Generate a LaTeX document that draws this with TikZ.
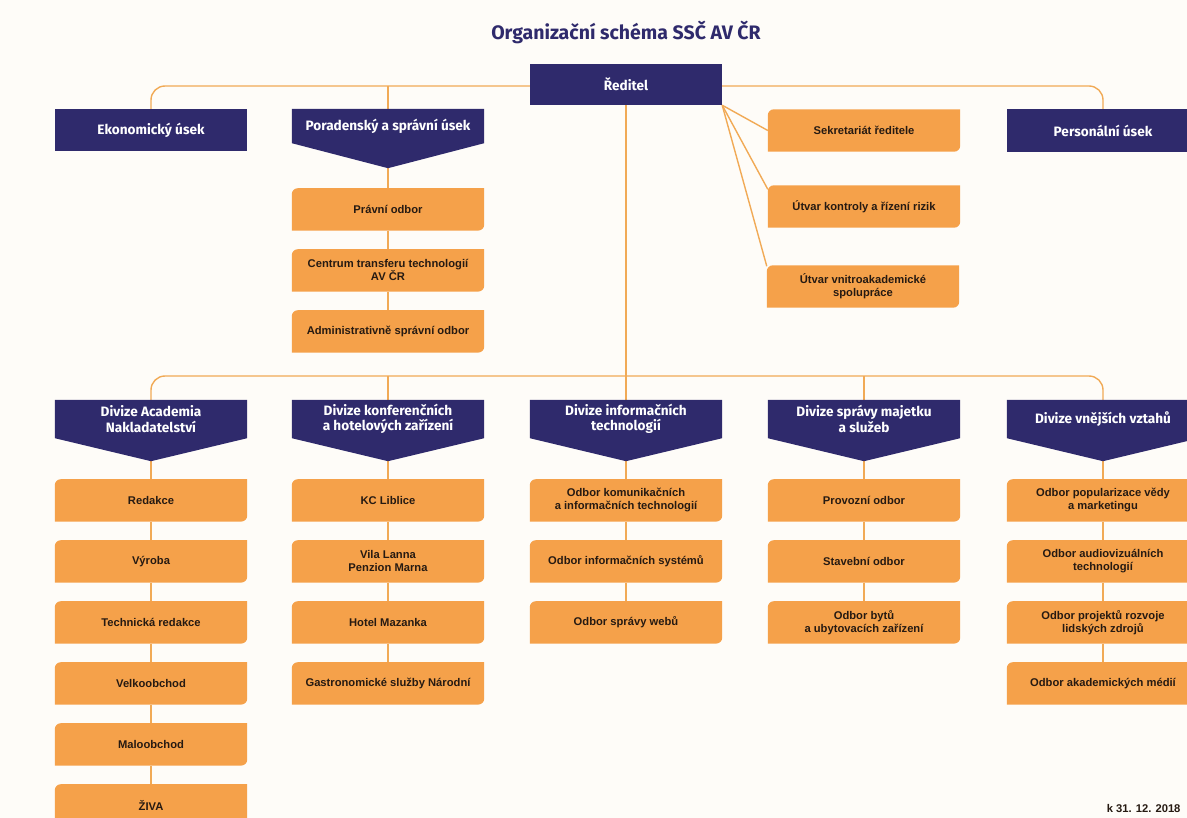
\documentclass[tikz,border=0pt]{standalone}
\usepackage{fontspec}
\setmainfont{Liberation Sans}
\newfontfamily\firafont{Fira Sans}
\usetikzlibrary{positioning,calc}
\definecolor{purp}{RGB}{47,42,108}
\definecolor{orng}{RGB}{245,161,74}
\definecolor{linecol}{RGB}{241,170,86}
\definecolor{txtdark}{RGB}{38,26,18}
\definecolor{paper}{RGB}{254,252,248}

\pgfdeclarelayer{lines}
\pgfdeclarelayer{boxes}
\pgfsetlayers{lines,boxes,main}

\tikzset{
  headbox/.style = {minimum width=192pt, minimum height=42pt, inner sep=2pt,
                    text=white, align=center,
                    font=\firafont\bfseries\fontsize{13.6}{15.5}\selectfont},
  unitbox/.style = {minimum width=192pt, minimum height=42pt, inner sep=2pt,
                    text=txtdark, align=center,
                    font=\bfseries\fontsize{11.2}{13}\selectfont},
  link/.style    = {draw=linecol, line width=1.4pt}
}

% orange box: rounded top left and bottom right
\newcommand{\unitshape}[1]{%
  \fill[orng] (#1.south west) -- ([yshift=-6pt]#1.north west)
    arc[start angle=180, end angle=90, radius=6pt] -- (#1.north east)
    -- ([yshift=6pt]#1.south east)
    arc[start angle=0, end angle=-90, radius=6pt] -- cycle;}
% purple box with a point underneath
\newcommand{\divshape}[2]{%
  \fill[purp] (#1.north west) -- (#1.north east) -- (#1.south east)
    -- ([yshift=-#2]#1.south) -- (#1.south west) -- cycle;}

\begin{document}
\begin{tikzpicture}[x=1pt, y=-1pt, node distance=18.6pt]
  \begin{pgfonlayer}{lines}
    \fill[paper] (0,0) rectangle (1187,818);
  \end{pgfonlayer}
  \useasboundingbox (0,0) rectangle (1187,818);

  \node[text=purp, font=\firafont\bfseries\fontsize{19.5}{22}\selectfont]
    (title) at (626,32) {Organizační schéma SSČ AV ČR};

  % top level
  \node[headbox, minimum height=41pt] (reditel) at (626,84.5) {Ředitel};
  \node[headbox] (ekon) at (151,130) {Ekonomický úsek};
  \node[headbox, minimum height=34pt] (porad) at (388,126) {Poradenský a správní úsek};
  \node[headbox] (pers) at (1103,130.5) {Personální úsek};
  \node[unitbox] (sekr)   at (864,130.5) {Sekretariát ředitele};
  \node[unitbox] (kontr)  at (864,206.5) {Útvar kontroly a řízení rizik};
  \node[unitbox] (vnitro) at (863,286.5) {Útvar vnitroakademické\\spolupráce};

  \node[unitbox, below=45pt of porad] (pravni) {Právní odbor};
  \node[unitbox, below=of pravni] (ctt)   {Centrum transferu technologií\\AV ČR};
  \node[unitbox, below=of ctt]    (admin) {Administrativně správní odbor};

  % divisions
  \node[headbox, minimum height=38pt] (dAcad)  at (151,419)  {Divize Academia\\Nakladatelství};
  \node[headbox, minimum height=38pt] (dKonf)  at (388,419)  {Divize konferenčních\\a hotelových zařízení};
  \node[headbox, minimum height=38pt] (dIT)    at (626,419)  {Divize informačních\\technologií};
  \node[headbox, minimum height=38pt] (dMaj)   at (864,419)  {Divize správy majetku\\a služeb};
  \node[headbox, minimum height=38pt] (dVztah) at (1103,419) {Divize vnějších vztahů};

  \node[unitbox, below=41pt of dAcad] (redakce) {Redakce};
  \node[unitbox, below=of redakce] (vyroba)   {Výroba};
  \node[unitbox, below=of vyroba]  (techred)  {Technická redakce};
  \node[unitbox, below=of techred] (velko)    {Velkoobchod};
  \node[unitbox, below=of velko]   (malo)     {Maloobchod};
  \node[unitbox, below=of malo]    (ziva)     {ŽIVA};

  \node[unitbox, below=41pt of dKonf] (liblice) {KC Liblice};
  \node[unitbox, below=of liblice] (lanna)   {Vila Lanna\\Penzion Marna};
  \node[unitbox, below=of lanna]   (mazanka) {Hotel Mazanka};
  \node[unitbox, below=of mazanka] (gastro)  {Gastronomické služby Národní};

  \node[unitbox, below=41pt of dIT] (komtech) {Odbor komunikačních\\a informačních technologií};
  \node[unitbox, below=of komtech] (infsys) {Odbor informačních systémů};
  \node[unitbox, below=of infsys]  (weby)   {Odbor správy webů};

  \node[unitbox, below=41pt of dMaj] (provoz) {Provozní odbor};
  \node[unitbox, below=of provoz] (stavba) {Stavební odbor};
  \node[unitbox, below=of stavba] (byty)   {Odbor bytů\\a ubytovacích zařízení};

  \node[unitbox, below=41pt of dVztah] (popul) {Odbor popularizace vědy\\a marketingu};
  \node[unitbox, below=of popul] (audio)  {Odbor audiovizuálních\\technologií};
  \node[unitbox, below=of audio] (lidzdr) {Odbor projektů rozvoje\\lidských zdrojů};
  \node[unitbox, below=of lidzdr] (media) {Odbor akademických médií};

  \node[text=txtdark, anchor=base east, font=\bfseries\fontsize{11.2}{13}\selectfont]
    (datum) at (1184,812) {k 31. 12. 2018};

  % box fills
  \begin{pgfonlayer}{boxes}
    \foreach \nd in {reditel, ekon, pers}
      \fill[purp] (\nd.north west) rectangle (\nd.south east);
    \foreach \nd/\tip in {porad/25pt, dAcad/23pt, dKonf/23pt, dIT/23pt, dMaj/23pt, dVztah/23pt}
      \divshape{\nd}{\tip};
    \foreach \nd in {sekr, kontr, vnitro, pravni, ctt, admin,
                     redakce, vyroba, techred, velko, malo, ziva,
                     liblice, lanna, mazanka, gastro, komtech, infsys, weby,
                     provoz, stavba, byty, popul, audio, lidzdr, media}
      \unitshape{\nd};
  \end{pgfonlayer}

  % connectors
  \begin{pgfonlayer}{lines}
    \coordinate (topbus) at (626,86);
    \coordinate (midbus) at (626,376);
    \draw[link, rounded corners=14pt] (ekon.north) |- (topbus) -| (pers.north);
    \draw[link] (porad.north) -- (porad.north |- topbus);
    \draw[link] (reditel.south east) -- (sekr.west);
    \draw[link] (reditel.south east) -- ([yshift=-4pt]kontr.north west);
    \draw[link] (reditel.south east) -- ([yshift=-1pt]vnitro.north west);
    \draw[link] (reditel.south) -- (dIT.north);
    \draw[link, rounded corners=14pt] (dAcad.north) |- (midbus) -| (dVztah.north);
    \draw[link] (dKonf.north) -- (dKonf.north |- midbus);
    \draw[link] (dMaj.north) -- (dMaj.north |- midbus);
    \foreach \up/\dn in {porad/pravni, pravni/ctt, ctt/admin,
                         dAcad/redakce, redakce/vyroba, vyroba/techred,
                         techred/velko, velko/malo, malo/ziva,
                         dKonf/liblice, liblice/lanna, lanna/mazanka, mazanka/gastro,
                         dIT/komtech, komtech/infsys, infsys/weby,
                         dMaj/provoz, provoz/stavba, stavba/byty,
                         dVztah/popul, popul/audio, audio/lidzdr, lidzdr/media}
      \draw[link] (\up) -- (\dn);
  \end{pgfonlayer}
\end{tikzpicture}
\end{document}
